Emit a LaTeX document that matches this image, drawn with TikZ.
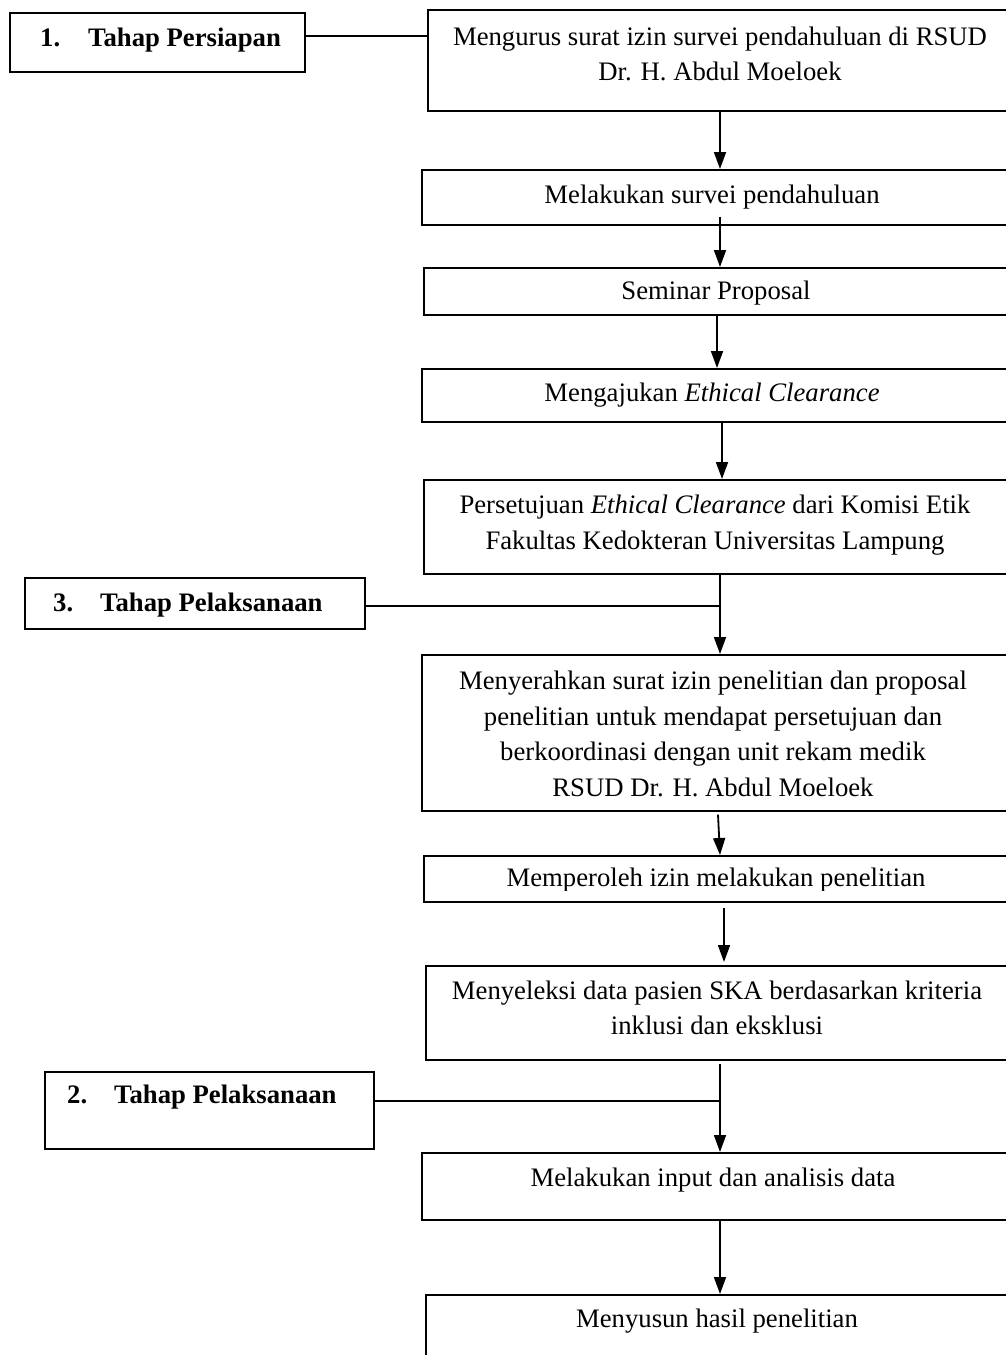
\documentclass[tikz,border=0pt]{standalone}
\usepackage{fontspec}
\setmainfont{Liberation Serif}
\usetikzlibrary{arrows.meta,calc}
\begin{document}
\begin{tikzpicture}[x=1pt,y=-1pt,
  box/.style={draw=black,line width=1.6pt,rectangle,anchor=north west,inner sep=0pt,fill=white},
  txt/.style={font=\fontsize{26.7}{35.5}\selectfont,align=center,inner sep=0pt},
  lbl/.style={font=\fontsize{26.7}{35.5}\selectfont\bfseries,anchor=west,inner sep=0pt},
  arr/.style={line width=1.8pt,-{Triangle[length=17pt,width=12pt]}},
  hl/.style={line width=1.4pt}]
\useasboundingbox (0,0) rectangle (1006,1355);
\clip (0,0) rectangle (1006,1355);
\fill[white] (0,0) rectangle (1006,1355);
% coordinates
\coordinate (x717) at (717,0);
\coordinate (x718) at (718,0);
\coordinate (x720) at (720,0);
\coordinate (x722) at (722,0);
\coordinate (x724) at (724,0);
\coordinate (y36) at (0,36);
\coordinate (y606) at (0,606);
\coordinate (y1101) at (0,1101);
% main boxes
\node[box,minimum width=583pt,minimum height=101pt] (b1) at (427,9) {};
\node[box,minimum width=589pt,minimum height=55pt] (b2) at (421,169) {};
\node[box,minimum width=587pt,minimum height=47pt] (b3) at (423,267) {};
\node[box,minimum width=589pt,minimum height=53pt] (b4) at (421,368) {};
\node[box,minimum width=587pt,minimum height=94pt] (b5) at (423,479) {};
\node[box,minimum width=589pt,minimum height=156pt] (b6) at (421,654) {};
\node[box,minimum width=587pt,minimum height=46pt] (b7) at (423,855) {};
\node[box,minimum width=585pt,minimum height=94pt] (b8) at (425,965) {};
\node[box,minimum width=589pt,minimum height=67pt] (b9) at (421,1152) {};
\node[box,minimum width=585pt,minimum height=80pt] (b10) at (425,1294) {};
% label boxes
\node[box,minimum width=295pt,minimum height=59pt] (la) at (9,12) {};
\node[box,minimum width=340pt,minimum height=51pt] (lc) at (24,577) {};
\node[box,minimum width=329pt,minimum height=77pt] (lb) at (44,1071) {};
% texts
\node[txt] (t1) at (720,54) {Mengurus surat izin survei pendahuluan di RSUD\\Dr. H. Abdul Moeloek};
\node[txt] (t2) at (712,197) {Melakukan survei pendahuluan};
\node[txt] (t3) at (716,293) {Seminar Proposal};
\node[txt] (t4) at (712,395) {Mengajukan \textit{Ethical Clearance}};
\node[txt] (t5) at (715,525) {Persetujuan \textit{Ethical Clearance} dari Komisi Etik\\Fakultas Kedokteran Universitas Lampung};
\node[txt] (t6) at (713,734) {Menyerahkan surat izin penelitian dan proposal\\penelitian untuk mendapat persetujuan dan\\berkoordinasi dengan unit rekam medik\\RSUD Dr. H. Abdul Moeloek};
\begin{scope}
\clip (423,855) rectangle (1010,890);
\node[txt] (t7) at (716,880) {Memperoleh izin melakukan penelitian};
\end{scope}
\node[txt] (t8) at (717,1008) {Menyeleksi data pasien SKA berdasarkan kriteria\\inklusi dan eksklusi};
\node[txt] (t9) at (713,1180) {Melakukan input dan analisis data};
\node[txt] (t10) at (717,1321) {Menyusun hasil penelitian};
\node[lbl] (ta) at (40,40) {1.\hspace{28pt}Tahap Persiapan};
\node[lbl] (tc) at (53,605) {3.\hspace{27pt}Tahap Pelaksanaan};
\node[lbl] (tb) at (67,1097) {2.\hspace{27pt}Tahap Pelaksanaan};
% connectors
\draw[arr] (b1.south -| x720) -- (b2.north -| x720);
\draw[arr] ($(b2.south -| x720)+(0,-9)$) -- (b3.north -| x720);
\draw[arr] (b3.south -| x717) -- (b4.north -| x717);
\draw[arr] (b4.south -| x722) -- (b5.north -| x722);
\draw[arr] (b5.south -| x720) -- (b6.north -| x720);
\draw[arr] ($(b6.south -| x718)+(0,3)$) -- (b7.north -| x720);
\draw[arr] ($(b7.south -| x724)+(0,5)$) -- ($(b8.north -| x724)+(0,-3)$);
\draw[arr] ($(b8.south -| x720)+(0,3)$) -- (b9.north -| x720);
\draw[arr] (b9.south -| x720) -- (b10.north -| x720);
\draw[hl] (la.east |- y36) -- (b1.west |- y36);
\draw[hl] (lc.east |- y606) -- (x720 |- y606);
\draw[hl] (lb.east |- y1101) -- (x720 |- y1101);
\end{tikzpicture}
\end{document}
